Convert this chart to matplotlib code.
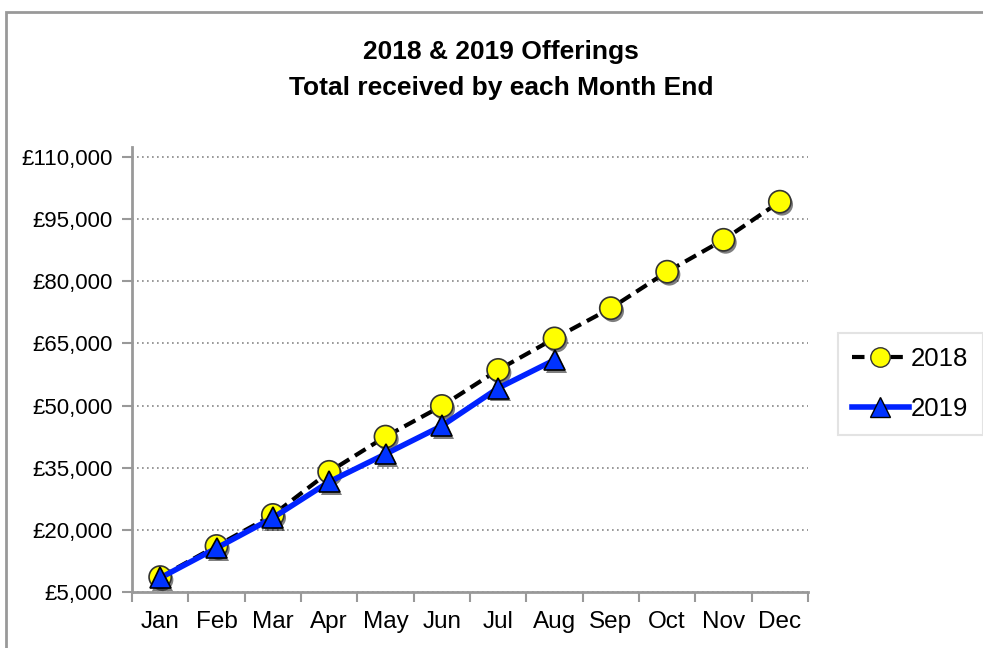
import matplotlib
matplotlib.use("Agg")
import matplotlib.pyplot as plt
import matplotlib.patheffects as pe
from matplotlib.lines import Line2D
from matplotlib.patches import Rectangle
from matplotlib.ticker import FuncFormatter, FixedLocator

plt.rcParams['font.family'] = ['Liberation Sans', 'DejaVu Sans']

months = ["Jan", "Feb", "Mar", "Apr", "May", "Jun",
          "Jul", "Aug", "Sep", "Oct", "Nov", "Dec"]
offer_2018 = [8600, 16100, 23600, 34000, 42500, 49900,
              58600, 66200, 73500, 82300, 90000, 99200]
offer_2019 = [8400, 15600, 22900, 31600, 38300, 45100, 54200, 61000]
y_ticks = [5000, 20000, 35000, 50000, 65000, 80000, 95000, 110000]

fig = plt.figure(figsize=(9.83, 6.48), dpi=100)
fig.patches.append(Rectangle((6 / 983, -0.1), 1.2, 1 - 12 / 648 + 0.1,
                             transform=fig.transFigure, fill=False,
                             edgecolor="#999999", linewidth=2))

ax = fig.add_axes([132 / 983, 1 - 592 / 648, (808 - 132) / 983, (592 - 147) / 648])

x18 = list(range(len(offer_2018)))
x19 = list(range(len(offer_2019)))
shadow = [pe.SimplePatchShadow(offset=(1.5, -2), alpha=0.5, shadow_rgbFace="black"), pe.Normal()]

ax.plot(x18, offer_2018, color="black", linestyle=(0, (3, 1.6)), linewidth=3, zorder=3)
ax.plot(x18, offer_2018, linestyle="none", marker="o", markersize=16,
        markerfacecolor="#ffff00", markeredgecolor="#333333", markeredgewidth=1.2,
        zorder=4, path_effects=shadow)
ax.plot(x19, offer_2019, color="#0022ff", linewidth=4, zorder=5)
ax.plot(x19, offer_2019, linestyle="none", marker="^", markersize=15,
        markerfacecolor="#0033ff", markeredgecolor="black", markeredgewidth=1.2,
        zorder=6, path_effects=shadow)

ax.set_xlim(-0.5, len(months) - 0.5)
ax.set_ylim(5000, 112400)

ax.xaxis.set_major_locator(FixedLocator([i - 0.5 for i in range(len(months) + 1)]))
ax.xaxis.set_minor_locator(FixedLocator(x18))
ax.set_xticklabels([], minor=False)
ax.set_xticklabels(months, minor=True)
ax.tick_params(axis="x", which="major", length=7, width=1.5, color="#999999", direction="out")
ax.tick_params(axis="x", which="minor", length=0, pad=14, labelsize=17.5)

ax.set_yticks(y_ticks)
ax.yaxis.set_major_formatter(FuncFormatter(lambda v, p: "£{:,.0f}".format(v)))
ax.tick_params(axis="y", length=7, width=1.5, color="#999999", direction="out",
               pad=7, labelsize=16)

ax.grid(axis="y", color="#888888", linestyle=(0, (1, 2)), linewidth=1.2)
ax.set_axisbelow(True)
for s in ["top", "right"]:
    ax.spines[s].set_visible(False)
for s in ["left", "bottom"]:
    ax.spines[s].set_color("#999999")
    ax.spines[s].set_linewidth(2)

fig.text(501 / 983, 1 - 52 / 648, "2018 & 2019 Offerings", ha="center", va="center",
         fontsize=19, fontweight="bold")
fig.text(501 / 983, 1 - 88 / 648, "Total received by each Month End", ha="center",
         va="center", fontsize=19, fontweight="bold")

handles = [
    Line2D([], [], color="black", linestyle=(0, (3, 1.6)), linewidth=3, marker="o",
           markersize=14, markerfacecolor="#ffff00", markeredgecolor="#333333"),
    Line2D([], [], color="#0022ff", linewidth=4, marker="^", markersize=14,
           markerfacecolor="#0033ff", markeredgecolor="black"),
]
leg = fig.legend(handles, ["2018", "2019"], loc="upper left",
                 bbox_to_anchor=(838 / 983, 1 - 333 / 648), fontsize=18.5,
                 frameon=True, fancybox=False, edgecolor="#dddddd",
                 handlelength=2.2, handletextpad=0.1, borderpad=0.55,
                 labelspacing=1.0, borderaxespad=0)
leg.get_frame().set_linewidth(1.5)

fig.savefig("out.png", dpi=100)
